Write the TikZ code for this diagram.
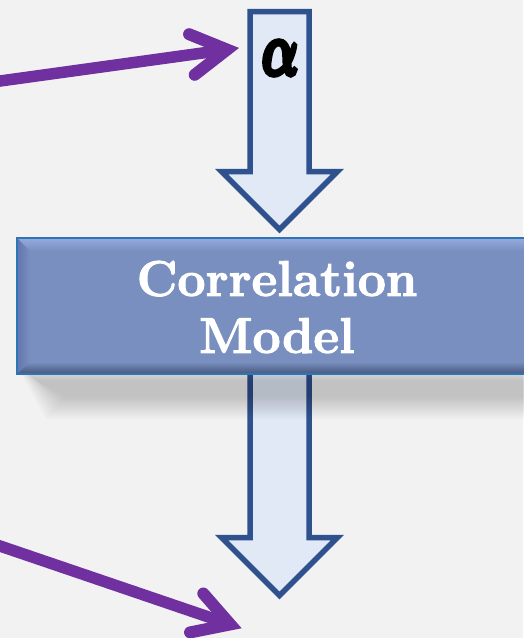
\documentclass[tikz,border=0pt]{standalone}
\usepackage{amsmath}
\usepackage{graphicx}
\usetikzlibrary{calc}

\definecolor{bg}{HTML}{F2F2F2}
\definecolor{arrowline}{HTML}{2F528F}
\definecolor{arrowfill}{HTML}{E2E9F6}
\definecolor{boxfill}{HTML}{788FC0}
\definecolor{boxedge}{HTML}{2E75B6}
\definecolor{bevlight}{HTML}{AFC2EE}
\definecolor{bevtop}{HTML}{92A8DC}
\definecolor{bevdark}{HTML}{4C5A7E}
\definecolor{bevleft}{HTML}{6378AE}
\definecolor{purp}{HTML}{7030A0}

% heavier strokes for letters (fill and stroke text render mode)
\newcommand{\heavytext}[2][1.1]{\special{pdf:literal direct 2 Tr #1 w}#2\special{pdf:literal direct 0 Tr}}

\tikzset{
  blockarrow/.style={draw=arrowline, fill=arrowfill, line width=5.5pt, line join=miter},
  pointer/.style={draw=purp, line width=12pt, line cap=round, line join=miter, miter limit=4},
  pointershaft/.style={draw=purp, line width=11.5pt, line cap=butt},
  caption/.style={text=white, font=\fontsize{50}{57}\selectfont\bfseries, align=center, inner sep=0pt},
}

\begin{document}
\begin{tikzpicture}[x=1pt, y=-1pt]
  % canvas
  \fill[bg] (0,0) rectangle (523,638);
  \useasboundingbox (0,0) rectangle (523,638);

  % block arrow into the model
  \draw[blockarrow] (250,11.5) -- (309,11.5) -- (309,171.5) -- (337.5,171.5)
        -- (279.5,229.5) -- (221.5,171.5) -- (250,171.5) -- cycle;
  \node[inner sep=0pt] (alpha) at (280,58)
        {\scalebox{4.8}[7.4]{\heavytext[0.75]{$\boldsymbol{\alpha}$}}};

  % block arrow out of the model
  \draw[blockarrow] (250,368) -- (309,368) -- (309,537.5) -- (337.5,537.5)
        -- (279.5,595.5) -- (221.5,537.5) -- (250,537.5) -- cycle;

  % soft drop shadow under the model box
  \foreach \i in {0,...,9}{
    \fill[black, opacity=0.021]
      ({16+2.2*\i},{364+1.8*\i}) -- (540,{364+1.8*\i}) -- (540,{419-2.4*\i})
      -- ({46+2.2*\i},{419-2.4*\i}) -- cycle;
  }

  % model box with bevelled edges
  \fill[boxfill] (17,238) rectangle (540,374);
  \shade[top color=bevtop, middle color=bevlight, bottom color=boxfill]
        (18,239) -- (540,239) -- (540,251) -- (30,251) -- cycle;
  \shade[left color=bevleft, right color=boxfill]
        (18,239) -- (30,251) -- (30,362) -- (18,373) -- cycle;
  \shade[top color=boxfill, bottom color=bevdark]
        (18,373) -- (30,362) -- (540,362) -- (540,373) -- cycle;
  \draw[boxedge, line width=1.6pt] (17,238) rectangle (545,374);
  \node[caption] (model) at (277,307) {\heavytext{Correlation}\\\heavytext{Model}};

  % purple pointers
  \coordinate (p1start) at (-10,82.4);
  \coordinate (p1tip)   at (227.1,49.6);
  \coordinate (p1a)     at (189.1,34.2);
  \coordinate (p1b)     at (194.7,74.8);
  \draw[pointershaft] (p1start) -- (p1tip);
  \draw[pointer] (p1a) -- (p1tip) -- (p1b);

  \coordinate (p2start) at (-10,542.6);
  \coordinate (p2tip)   at (230.3,624.4);
  \coordinate (p2a)     at (203.3,593.5);
  \coordinate (p2b)     at (190.1,632.4);
  \draw[pointershaft] (p2start) -- (p2tip);
  \draw[pointer] (p2a) -- (p2tip) -- (p2b);
\end{tikzpicture}
\end{document}
